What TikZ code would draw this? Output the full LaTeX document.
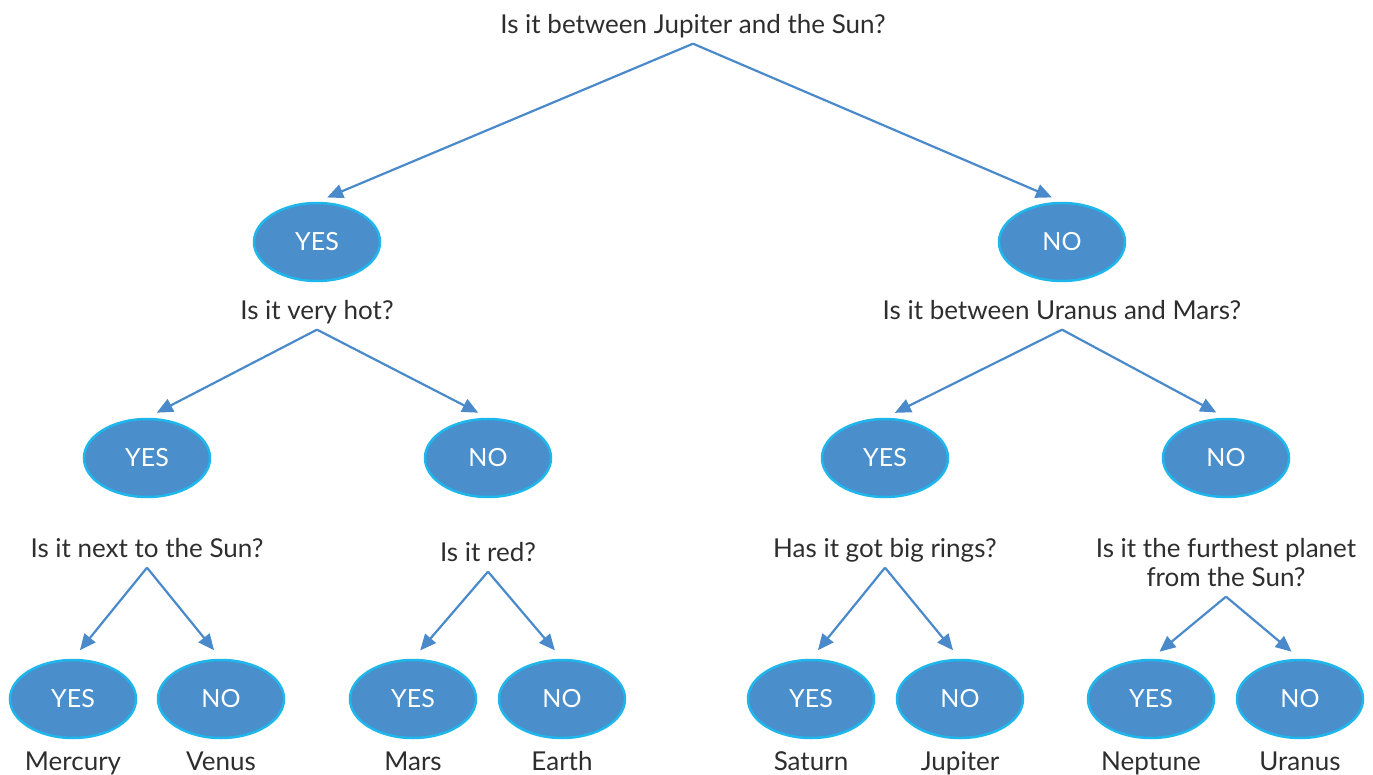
\documentclass[tikz,border=0pt]{standalone}
\usepackage{fontspec}
\setmainfont{Lato}
\usetikzlibrary{shapes.geometric,positioning,arrows.meta}
\definecolor{ansblue}{HTML}{4A8FCB}
\definecolor{ansrim}{HTML}{1FB6EC}
\definecolor{linkblue}{HTML}{4A8ACB}
\definecolor{qtext}{HTML}{2E2E2E}

\begin{document}
\begin{tikzpicture}[x=1pt, y=-1pt,
% Answer style
		answer/.style={ellipse
							    , fill=ansblue
							    , draw=ansrim, line width=2.5pt
							    , minimum width=126pt
							    , minimum height=78pt
							    , text=white
							    , font=\fontsize{25}{30}\selectfont},
		question/.style={rectangle
							    , inner xsep=0pt, inner ysep=3pt
							    , text height=18pt, text depth=7pt
							    , align=center
							    , text=qtext
							    , font=\fontsize{26}{29}\selectfont},
		planet/.style={question},
% Links
		link/.style={draw=linkblue, line width=2.2pt
							    , -{Triangle[length=16pt,width=14pt]}
							    , shorten >=11pt}
	]
	\useasboundingbox (0,0) rectangle (1373,775);
%% Level 0
		\node [question] (q0) at (693,28) {Is it between Jupiter and the Sun?};
		\node [answer] (q0c1) at (317,242) {YES};
		\node [answer] (q0c2) at (1062,242) {NO};
		\draw [link] (q0.south) -- (q0c1.north);
		\draw [link] (q0.south) -- (q0c2.north);
%% Level 1
		\node [question] (q1) [below=16pt of q0c1] {Is it very hot?};
		\node [question] (q2) [below=16pt of q0c2] {Is it between Uranus and Mars?};
		\node [answer] (q1c1) at (147,458) {YES};
		\node [answer] (q1c2) at (488,458) {NO};
		\node [answer] (q2c1) at (885,458) {YES};
		\node [answer] (q2c2) at (1226,458) {NO};
		\draw [link] (q1.south) -- (q1c1.north);
		\draw [link] (q1.south) -- (q1c2.north);
		\draw [link] (q2.south) -- (q2c1.north);
		\draw [link] (q2.south) -- (q2c2.north);
%% Level 2
		\node [question] (q11) [below=38pt of q1c1] {Is it next to the Sun?};
		\node [question] (q12) [below=42pt of q1c2] {Is it red?};
		\node [question] (q21) [below=38pt of q2c1] {Has it got big rings?};
		\node [question, text height=47pt] (q22) [below=38pt of q2c2] {Is it the furthest planet\\from the Sun?};
%% Leaves
		\foreach \q/\xl/\xr/\pl/\pr in {q11/73/221/Mercury/Venus,
		                                q12/413/562/Mars/Earth,
		                                q21/811/960/Saturn/Jupiter,
		                                q22/1151/1300/Neptune/Uranus}
		{
			\node [answer] (\q y) at (\xl,699) {YES};
			\node [answer] (\q n) at (\xr,699) {NO};
			\node [planet] (\q yp) [below=10pt of \q y] {\pl};
			\node [planet] (\q np) [below=10pt of \q n] {\pr};
			\draw [link] (\q.south) -- (\q y.north);
			\draw [link] (\q.south) -- (\q n.north);
		}
\end{tikzpicture}
\end{document}
